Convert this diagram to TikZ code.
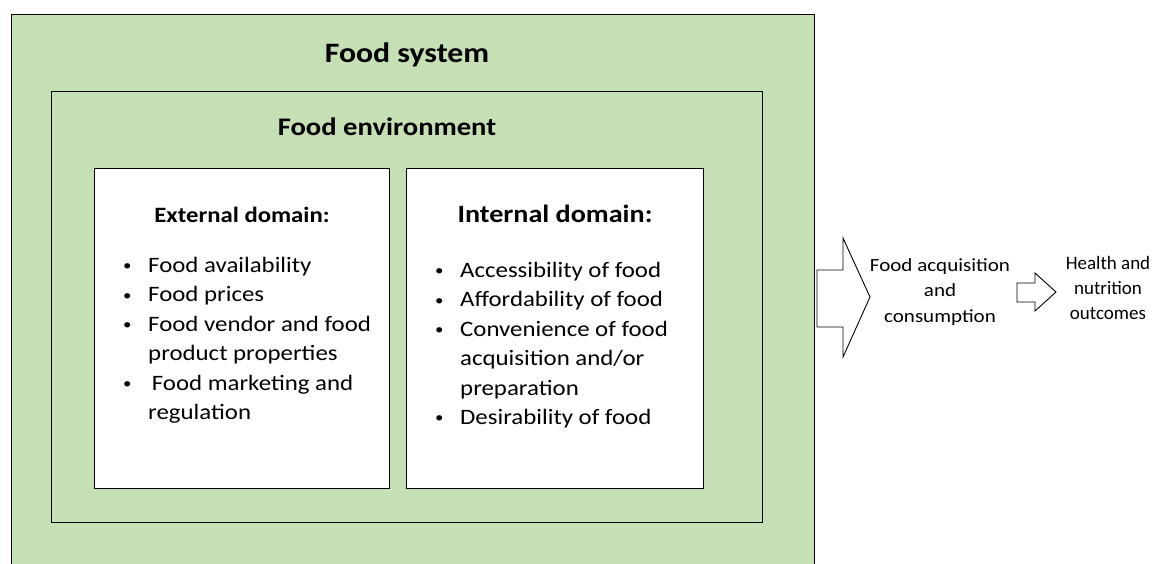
\documentclass[tikz,border=0pt]{standalone}
\usepackage{fontspec}
\setmainfont{Carlito}[FakeStretch=1.13]
\newfontfamily\narrowfont{Carlito}
\usetikzlibrary{positioning}

\definecolor{sysgreen}{HTML}{C5E0B4}

% bullet item and continuation line for the domain lists
\newcommand{\itm}[1]{\makebox[25pt][l]{\raisebox{1.5pt}{\fontsize{15}{15}\selectfont\textbullet}}#1}
\newcommand{\cnt}[1]{\hspace*{25pt}#1}

\tikzset{
  box/.style={draw=black, line width=1.4pt, anchor=north west, inner sep=0pt},
  heading/.style={anchor=base, inner sep=0pt},
  itemlist/.style={anchor=north west, align=left, inner sep=0pt,
    font=\fontsize{22}{29.4}\selectfont},
  outcome/.style={align=center, inner sep=0pt, anchor=north,
    font=\fontsize{18.6}{25.5}\selectfont},
  blockarrow/.style={draw=black, line width=0.9pt, fill=white, line join=miter}
}

\begin{document}
\begin{tikzpicture}[x=1pt,y=-1pt]
  \useasboundingbox (0,0) rectangle (1162,563);
  \clip (0,0) rectangle (1162,563);

  % nested boxes
  \node[box, fill=sysgreen, minimum width=803pt, minimum height=600pt] (system) at (11,14) {};
  \node[box, fill=sysgreen, minimum width=711pt, minimum height=431pt] (environment) at (51,91) {};
  \node[box, fill=white, minimum width=295pt, minimum height=320pt] (external) at (94,168) {};
  \node[box, fill=white, minimum width=297pt, minimum height=320pt] (internal) at (406,168) {};

  % titles
  \node[heading, font=\fontsize{28.1}{34}\bfseries] (systitle) at (407,62) {Food system};
  \node[heading, font=\fontsize{25.3}{30}\bfseries] (envtitle) at (387,135) {Food environment};
  \node[heading, font=\fontsize{21.9}{26}\bfseries] (exttitle) at (242,222) {External domain:};
  \node[heading, font=\fontsize{24.9}{30}\bfseries] (inttitle) at (555,222) {Internal domain:};

  % domain lists
  \node[itemlist] (extlist) at (123,257) {%
    \itm{Food availability}\\
    \itm{Food prices}\\
    \itm{Food vendor and food}\\
    \cnt{product properties}\\
    \itm{\,Food marketing and}\\
    \cnt{regulation}};
  \node[itemlist] (intlist) at (435,262) {%
    \itm{Accessibility of food}\\
    \itm{Affordability of food}\\
    \itm{Convenience of food}\\
    \cnt{acquisition and/or}\\
    \cnt{preparation}\\
    \itm{Desirability of food}};

  % outcomes on the right
  \node[outcome] (acquisition) at (940,258) {Food acquisition\\and\\consumption};
  \node[outcome, font=\narrowfont\fontsize{19}{25}\selectfont] (health) at (1108,256) {Health and\\nutrition\\outcomes};

  % block arrows
  \draw[blockarrow] (817,270) -- (843,270) -- (843,238) -- (870,297)
    -- (843,357) -- (843,327) -- (817,327) -- cycle;
  \draw[blockarrow] (1017,283) -- (1035,283) -- (1035,273) -- (1056,292)
    -- (1035,311) -- (1035,302) -- (1017,302) -- cycle;
\end{tikzpicture}
\end{document}
